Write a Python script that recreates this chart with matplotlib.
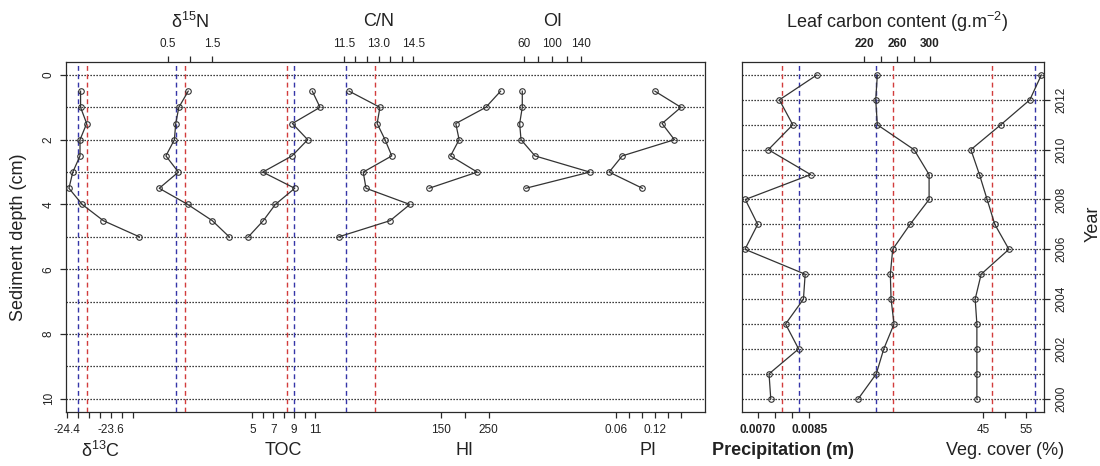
import matplotlib
matplotlib.use("Agg")
import matplotlib.pyplot as plt
import matplotlib.transforms as mtrans

plt.rcParams["font.family"] = ["Liberation Sans", "DejaVu Sans"]
plt.rcParams["mathtext.fontset"] = "custom"
plt.rcParams["mathtext.rm"] = "Liberation Sans"
plt.rcParams["mathtext.it"] = "Liberation Sans:italic"
plt.rcParams["mathtext.bf"] = "Liberation Sans:bold"

# ---------------- sediment core profiles (depth in cm) ----------------
depth = [0.5, 1.0, 1.5, 2.0, 2.5, 3.0, 3.5, 4.0, 4.5, 5.0]
depth_rock_eval = [0.5, 1.0, 1.5, 2.0, 2.5, 3.0, 3.5]

d13c = [-24.15, -24.15, -24.04, -24.16, -24.16, -24.29, -24.36, -24.12, -23.74, -23.09]
d15n = [0.96, 0.75, 0.68, 0.65, 0.46, 0.74, 0.31, 0.95, 1.50, 1.88]
toc = [10.74, 11.48, 8.83, 10.30, 8.80, 6.00, 9.06, 7.20, 6.05, 4.62]
cn = [11.73, 13.06, 12.94, 13.28, 13.57, 12.34, 12.46, 14.35, 13.50, 11.28]
hi = [275, 244, 181, 188, 170, 226, 125]
oi = [57.6, 57.6, 53.9, 55.8, 75.5, 152.8, 62.4]
pi = [0.120, 0.160, 0.131, 0.150, 0.070, 0.050, 0.101]

# reference levels (blue, red)
d13c_ref = [-24.19, -24.03]
d15n_ref = [0.68, 0.895]
toc_ref = [9.02, 8.29]
cn_ref = [11.60, 12.84]

# ---------------- yearly records ----------------
years = [2013, 2012, 2011, 2010, 2009, 2008, 2007, 2006, 2005, 2004, 2003, 2002, 2001, 2000]
precip = [0.00872, 0.00763, 0.00802, 0.00731, 0.00854, 0.00664, 0.00700,
          0.00663, 0.00838, 0.00833, 0.00781, 0.00819, 0.00733, 0.00738]
leaf_c = [235.9, 233.9, 235.9, 280.6, 298.9, 298.9, 275.7,
          254.6, 251.7, 252.6, 256.2, 243.7, 234.6, 212.7]
veg = [58.6, 55.9, 49.1, 42.1, 44.1, 45.9, 47.7,
       51.0, 44.5, 43.1, 43.5, 43.5, 43.5, 43.5]

precip_ref = [0.00819, 0.00772]
leaf_ref = [234.6, 254.6]
veg_ref = [57.2, 47.1]

# ---------------- styling ----------------
LINE = "#333333"
BLUE = "#3535a8"
RED = "#d23c3c"
FRAME = "#2a2a2a"
TICK_FS = 8.5
TITLE_FS = 13

fig = plt.figure(figsize=(11, 4.66), dpi=100)
W, H = 1100.0, 466.0
bottom = (H - 411.7) / H
height = 349.7 / H
ax_l = fig.add_axes([66 / W, bottom, 639 / W, height])
ax_r = fig.add_axes([742 / W, bottom, 302 / W, height])


def setup_base(ax):
    ax.set_xticks([])
    for sp in ax.spines.values():
        sp.set_linewidth(0.9)
        sp.set_color(FRAME)


def profile(base, xs, ys, xlim, ticks, ticklabels, side, title,
            refs=None, bold=False, title_bold=False):
    t = base.twiny()
    t.set_xlim(*xlim)
    for sp in t.spines.values():
        sp.set_visible(False)
    if refs is not None:
        t.axvline(refs[0], color=BLUE, lw=1.0, ls=(0, (3.5, 2.5)), zorder=1)
        t.axvline(refs[1], color=RED, lw=1.0, ls=(0, (3.5, 2.5)), zorder=1)
    t.plot(xs, ys, color=LINE, lw=0.9, marker="o", ms=4.0, mfc="none",
           mec=LINE, mew=0.8, zorder=3)
    t.set_xticks(ticks)
    t.set_xticklabels(ticklabels, fontsize=TICK_FS,
                      fontweight="bold" if bold else "normal", color="#222222")
    t.xaxis.set_ticks_position(side)
    t.tick_params(axis="x", direction="out", length=4.2, width=0.9,
                  pad=4.5, color=FRAME)
    trans = mtrans.blended_transform_factory(t.transData, t.transAxes)
    xmid = (ticks[0] + ticks[-1]) / 2.0
    if side == "top":
        y, off = 1.0, 28.8
    else:
        y, off = 0.0, -28.0
    t.annotate(title, xy=(xmid, y), xycoords=trans, xytext=(0, off),
               textcoords="offset points", ha="center", va="center",
               fontsize=TITLE_FS, fontweight="bold" if title_bold else "normal",
               color="#222222", annotation_clip=False)
    return t


# ---------------- left panel: sediment core ----------------
setup_base(ax_l)
ax_l.set_ylim(10.4, -0.4)
for d in range(0, 11):
    ax_l.axhline(d, color="black", lw=0.9, ls=(0, (1, 1.4)), zorder=0.5)
ax_l.set_yticks([0, 2, 4, 6, 8, 10])
ax_l.set_yticklabels(["0", "2", "4", "6", "8", "10"], fontsize=TICK_FS,
                     rotation=90, va="center", color="#222222")
ax_l.tick_params(axis="y", direction="out", length=4.2, width=0.9, pad=4,
                 color=FRAME)

profile(ax_l, d13c, depth, (-24.4126, -12.899),
        [-24.4, -24.2, -24.0, -23.8, -23.6, -23.4, -23.2],
        ["-24.4", "", "", "", "-23.6", "", ""], "bottom",
        "δ$^{13}$C", refs=d13c_ref)
profile(ax_l, d15n, depth, (-1.780, 12.547),
        [0.5, 1.0, 1.5], ["0.5", "", "1.5"], "top",
        "δ$^{15}$N", refs=d15n_ref)
profile(ax_l, toc, depth, (-12.83, 48.32),
        [5, 6, 7, 8, 9, 10, 11], ["5", "", "7", "", "9", "", "11"], "bottom",
        "TOC", refs=toc_ref)
profile(ax_l, cn, depth, (-0.47, 27.07),
        [11.5, 12.0, 12.5, 13.0, 13.5, 14.0, 14.5],
        ["11.5", "", "", "13.0", "", "", "14.5"], "top",
        "C/N", refs=cn_ref)
profile(ax_l, hi, depth_rock_eval, (-636.2, 703.5),
        [150, 200, 250], ["150", "", "250"], "bottom", "HI")
profile(ax_l, oi, depth_rock_eval, (-586.2, 315.4),
        [60, 80, 100, 120, 140], ["60", "", "100", "", "140"], "top", "OI")
profile(ax_l, pi, depth_rock_eval, (-0.7818, 0.1968),
        [0.06, 0.08, 0.10, 0.12, 0.14, 0.16],
        ["0.06", "", "", "0.12", "", ""], "bottom", "PI")

fig.text(18.5 / W, 1 - 237 / H, "Sediment depth (cm)", rotation=90,
         ha="center", va="center", fontsize=TITLE_FS, color="#222222")

# ---------------- right panel: yearly records ----------------
setup_base(ax_r)
ax_r.set_ylim(1999.48, 2013.52)
for yr in range(2000, 2014):
    ax_r.axhline(yr, color="black", lw=0.9, ls=(0, (1, 1.4)), zorder=0.5)
ax_r.yaxis.tick_right()
ax_r.set_yticks([2000, 2002, 2004, 2006, 2008, 2010, 2012])
ax_r.set_yticklabels(["2000", "2002", "2004", "2006", "2008", "2010", "2012"],
                     fontsize=TICK_FS, rotation=90, va="center", color="#222222")
ax_r.tick_params(axis="y", direction="out", length=4.2, width=0.9, pad=4,
                 color=FRAME)

profile(ax_r, precip, years, (0.006544, 0.015323),
        [0.0070, 0.0075, 0.0080, 0.0085], ["0.0070", "", "", "0.0085"],
        "bottom", "Precipitation (m)", refs=precip_ref, bold=True,
        title_bold=True)
profile(ax_r, leaf_c, years, (71.1, 438.8),
        [220, 240, 260, 280, 300], ["220", "", "260", "", "300"], "top",
        "Leaf carbon content (g.m$^{-2}$)", refs=leaf_ref, bold=True)
profile(ax_r, veg, years, (-11.51, 59.22),
        [45, 50, 55], ["45", "", "55"], "bottom", "Veg. cover (%)",
        refs=veg_ref)

fig.text(1093 / W, 1 - 224 / H, "Year", rotation=90, ha="center",
         va="center", fontsize=TITLE_FS, color="#222222")

fig.savefig("out.png", dpi=100, facecolor="white")
